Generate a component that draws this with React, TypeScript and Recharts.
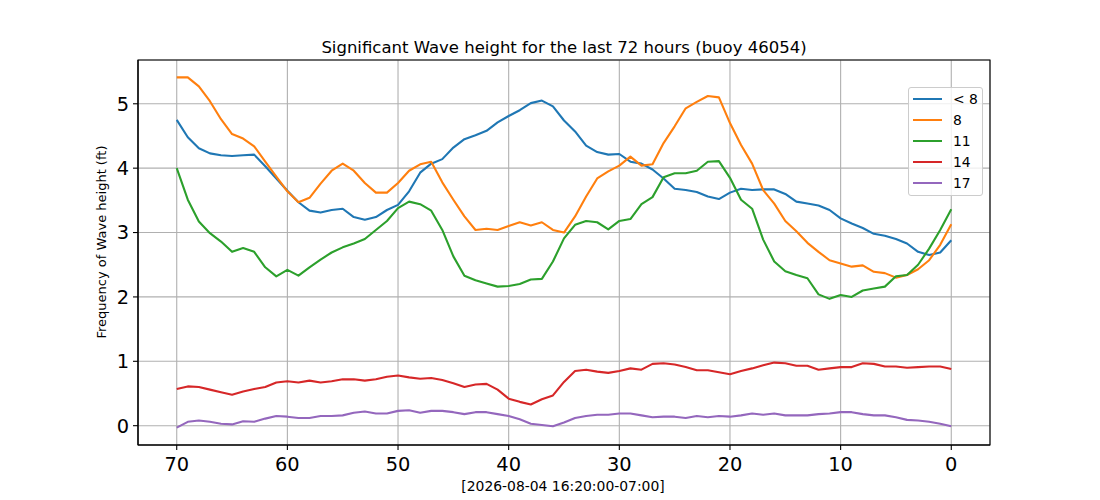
import {
  LineChart, Line, XAxis, YAxis, CartesianGrid, Legend, ReferenceArea,
} from "recharts";

// hours before now, oldest first
const hours = [
  70, 69, 68, 67, 66, 65, 64, 63, 62, 61,
  60, 59, 58, 57, 56, 55, 54, 53, 52, 51,
  50, 49, 48, 47, 46, 45, 44, 43, 42, 41,
  40, 39, 38, 37, 36, 35, 34, 33, 32, 31,
  30, 29, 28, 27, 26, 25, 24, 23, 22, 21,
  20, 19, 18, 17, 16, 15, 14, 13, 12, 11,
  10, 9, 8, 7, 6, 5, 4, 3, 2, 1, 0,
];

const under8 = [
  4.75, 4.48, 4.31, 4.23, 4.20, 4.19, 4.20, 4.21, 4.03, 3.84,
  3.65, 3.47, 3.34, 3.31, 3.35, 3.37, 3.24, 3.20, 3.24, 3.35,
  3.43, 3.64, 3.93, 4.07, 4.14, 4.32, 4.45, 4.51, 4.58, 4.71,
  4.81, 4.90, 5.01, 5.05, 4.96, 4.74, 4.57, 4.35, 4.25, 4.21,
  4.22, 4.10, 4.07, 3.98, 3.84, 3.68, 3.66, 3.63, 3.56, 3.52,
  3.62, 3.68, 3.66, 3.67, 3.67, 3.60, 3.48, 3.45, 3.42, 3.35,
  3.22, 3.14, 3.07, 2.98, 2.95, 2.90, 2.83, 2.70, 2.65, 2.69, 2.88,
];

const ft8 = [
  5.41, 5.41, 5.27, 5.04, 4.76, 4.53, 4.46, 4.34, 4.10, 3.87,
  3.64, 3.47, 3.54, 3.76, 3.96, 4.07, 3.96, 3.77, 3.62, 3.62,
  3.77, 3.96, 4.06, 4.10, 3.78, 3.51, 3.25, 3.04, 3.06, 3.04,
  3.10, 3.16, 3.11, 3.16, 3.04, 3.00, 3.25, 3.56, 3.84, 3.95,
  4.04, 4.18, 4.04, 4.06, 4.39, 4.65, 4.93, 5.03, 5.12, 5.10,
  4.70, 4.36, 4.07, 3.66, 3.45, 3.18, 3.02, 2.84, 2.70, 2.57,
  2.52, 2.47, 2.49, 2.39, 2.37, 2.30, 2.34, 2.43, 2.57, 2.81, 3.13,
];

const ft11 = [
  4.00, 3.51, 3.17, 2.99, 2.86, 2.70, 2.76, 2.70, 2.46, 2.32,
  2.42, 2.33, 2.46, 2.58, 2.69, 2.77, 2.83, 2.90, 3.04, 3.18,
  3.38, 3.48, 3.44, 3.34, 3.04, 2.63, 2.33, 2.26, 2.21, 2.16,
  2.17, 2.20, 2.27, 2.28, 2.55, 2.91, 3.12, 3.18, 3.16, 3.05,
  3.18, 3.21, 3.44, 3.55, 3.86, 3.92, 3.92, 3.96, 4.10, 4.11,
  3.85, 3.51, 3.37, 2.89, 2.55, 2.40, 2.34, 2.29, 2.04, 1.97,
  2.03, 2.00, 2.10, 2.13, 2.16, 2.32, 2.34, 2.50, 2.75, 3.04, 3.36,
];

const ft14 = [
  0.57, 0.61, 0.60, 0.56, 0.52, 0.48, 0.53, 0.57, 0.60, 0.67,
  0.69, 0.67, 0.70, 0.67, 0.69, 0.72, 0.72, 0.70, 0.72, 0.76,
  0.78, 0.75, 0.73, 0.74, 0.71, 0.66, 0.60, 0.64, 0.65, 0.56,
  0.42, 0.37, 0.33, 0.41, 0.47, 0.68, 0.85, 0.87, 0.84, 0.82,
  0.85, 0.89, 0.87, 0.96, 0.97, 0.95, 0.91, 0.86, 0.86, 0.83,
  0.80, 0.85, 0.89, 0.94, 0.98, 0.97, 0.93, 0.93, 0.87, 0.89,
  0.91, 0.91, 0.97, 0.96, 0.92, 0.92, 0.90, 0.91, 0.92, 0.92, 0.88,
];

const ft17 = [
  -0.03, 0.06, 0.08, 0.06, 0.03, 0.02, 0.07, 0.06, 0.11, 0.15,
  0.14, 0.12, 0.12, 0.15, 0.15, 0.16, 0.20, 0.22, 0.19, 0.19,
  0.23, 0.24, 0.20, 0.23, 0.23, 0.21, 0.18, 0.21, 0.21, 0.18,
  0.15, 0.10, 0.03, 0.01, -0.01, 0.05, 0.12, 0.15, 0.17, 0.17,
  0.19, 0.19, 0.16, 0.13, 0.14, 0.14, 0.12, 0.15, 0.13, 0.15,
  0.14, 0.16, 0.19, 0.17, 0.19, 0.16, 0.16, 0.16, 0.18, 0.19,
  0.21, 0.21, 0.18, 0.16, 0.16, 0.13, 0.09, 0.08, 0.06, 0.03, -0.01,
];

const xTicks = [0, 10, 20, 30, 40, 50, 60, 70];
const yTicks = [0, 1, 2, 3, 4, 5];

const series = [
  { key: "under8", name: "< 8", color: "#1f77b4" },
  { key: "ft8", name: "8", color: "#ff7f0e" },
  { key: "ft11", name: "11", color: "#2ca02c" },
  { key: "ft14", name: "14", color: "#d62728" },
  { key: "ft17", name: "17", color: "#9467bd" },
];

const data = hours.map((hour, i) => ({
  hour,
  under8: under8[i],
  ft8: ft8[i],
  ft11: ft11[i],
  ft14: ft14[i],
  ft17: ft17[i],
}));

const FONT = "DejaVu Sans, sans-serif";

function LegendBox() {
  return (
    <div
      style={{
        width: 75,
        boxSizing: "border-box",
        background: "rgba(255,255,255,0.8)",
        border: "1px solid #cccccc",
        borderRadius: 3,
        padding: "0px 0 2px 4px",
        fontFamily: FONT,
        fontSize: 13.9,
        color: "#000",
      }}
    >
      {series.map(s => (
        <div key={s.key} style={{ display: "flex", alignItems: "center", height: 21 }}>
          <div style={{ width: 29, height: 2, background: s.color, marginRight: 11 }} />
          <span>{s.name}</span>
        </div>
      ))}
    </div>
  );
}

export default function App() {
  return (
    <div style={{ position: "absolute", left: 0, top: 0, width: 1100, height: 500, background: "#fff" }}>
      <LineChart
        width={1100}
        height={500}
        data={data}
        margin={{ top: 60, right: 110, bottom: 0, left: 0 }}
      >
        <CartesianGrid stroke="#b0b0b0" strokeWidth={1.1} />
        <XAxis
          dataKey="hour"
          type="number"
          reversed
          domain={[-3.5, 73.5]}
          ticks={xTicks}
          allowDataOverflow
          height={55}
          tickSize={5}
          tickMargin={7}
          tick={{ fontSize: 19.4, fill: "#000", fontFamily: FONT }}
          tickLine={{ stroke: "#000", strokeWidth: 1.1 }}
          axisLine={{ stroke: "#000", strokeWidth: 1.1 }}
        />
        <YAxis
          type="number"
          domain={[-0.3, 5.68]}
          ticks={yTicks}
          allowDataOverflow
          width={138}
          tickSize={5}
          tickMargin={4}
          tick={{ fontSize: 19.4, fill: "#000", fontFamily: FONT }}
          tickLine={{ stroke: "#000", strokeWidth: 1.1 }}
          axisLine={{ stroke: "#000", strokeWidth: 1.1 }}
        />
        {series.map(s => (
          <Line
            key={s.key}
            type="linear"
            dataKey={s.key}
            name={s.name}
            stroke={s.color}
            strokeWidth={2.1}
            strokeLinejoin="round"
            dot={false}
            activeDot={false}
            isAnimationActive={false}
          />
        ))}
        <ReferenceArea
          x1={-3.5}
          x2={73.5}
          y1={-0.3}
          y2={5.68}
          fill="none"
          stroke="#000"
          strokeWidth={1.1}
          ifOverflow="visible"
        />
        <Legend
          layout="vertical"
          align="center"
          verticalAlign="middle"
          content={() => <LegendBox />}
          wrapperStyle={{ left: 908, top: 87, width: 75 }}
        />
      </LineChart>
      <svg
        width={1100}
        height={500}
        style={{ position: "absolute", left: 0, top: 0, pointerEvents: "none" }}
        fontFamily={FONT}
      >
        <text x={564} y={52.5} textAnchor="middle" fontSize={16.5} fill="#000">
          Significant Wave height for the last 72 hours (buoy 46054)
        </text>
        <text x={563} y={491} textAnchor="middle" fontSize={13.9} fill="#000">
          [2026-08-04 16:20:00-07:00]
        </text>
        <text
          transform="translate(106, 242) rotate(-90)"
          textAnchor="middle"
          fontSize={13}
          fill="#000"
        >
          Frequency of Wave height (ft)
        </text>
      </svg>
    </div>
  );
}
